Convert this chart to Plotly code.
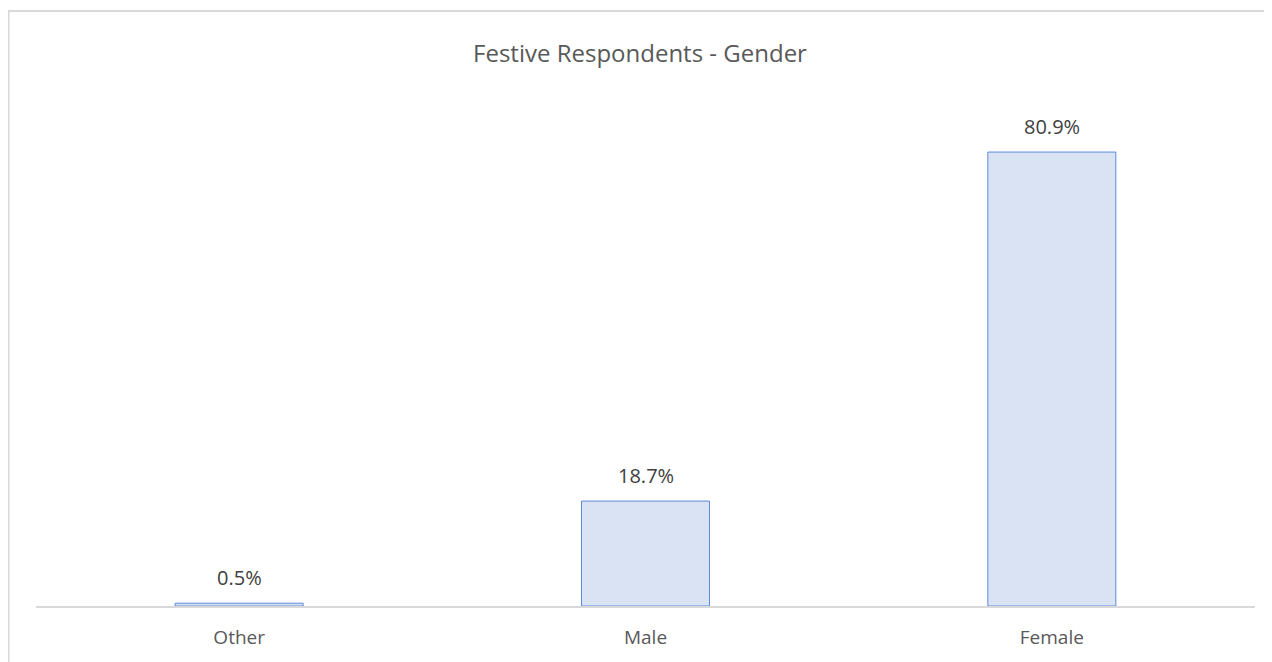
import plotly.graph_objects as go

# Data
categories = ["Other", "Male", "Female"]
shares = [0.5, 18.7, 80.9]
labels = [f"{v:.1f}%" for v in shares]

fig = go.Figure()

fig.add_trace(go.Bar(
    x=categories,
    y=shares,
    marker=dict(color="#DAE3F3", line=dict(color="#5B8BD9", width=1)),
    cliponaxis=False,
    showlegend=False,
    hovertemplate="%{x}: %{y:.1f}%<extra></extra>",
))

# value labels above the bars
for cat, val, lab in zip(categories, shares, labels):
    fig.add_annotation(x=cat, y=val, text=lab, showarrow=False,
                       yanchor="bottom", yshift=10,
                       font=dict(size=20, color="#404040", family="Open Sans"))

# chart frame (Excel style border, partly cut off at right/bottom)
fig.add_shape(
    type="rect", xref="paper", yref="paper",
    x0=-0.0225, x1=1.1, y0=-0.3, y1=1.178,
    line=dict(color="#D9D9D9", width=2), fillcolor="rgba(0,0,0,0)", layer="below",
)

# page body has an 8px margin, so the figure is sized a bit smaller
fig.update_layout(
    width=1264, height=654,
    margin=dict(l=28, r=17, t=93, b=56),
    paper_bgcolor="white", plot_bgcolor="white",
    bargap=0.685,
    title=dict(text="Festive Respondents - Gender", x=0.5, xanchor="center",
               y=0.931, yanchor="middle",
               font=dict(size=24, color="#595959", family="Open Sans")),
    font=dict(family="Open Sans", color="#595959"),
    xaxis=dict(showline=True, linecolor="#D9D9D9", linewidth=1.5,
               tickfont=dict(size=19, color="#595959"), ticks="",
               ticklabelstandoff=13),
    yaxis=dict(range=[0, 90], visible=False, showgrid=False, zeroline=False),
)

fig.write_html("out.html")
